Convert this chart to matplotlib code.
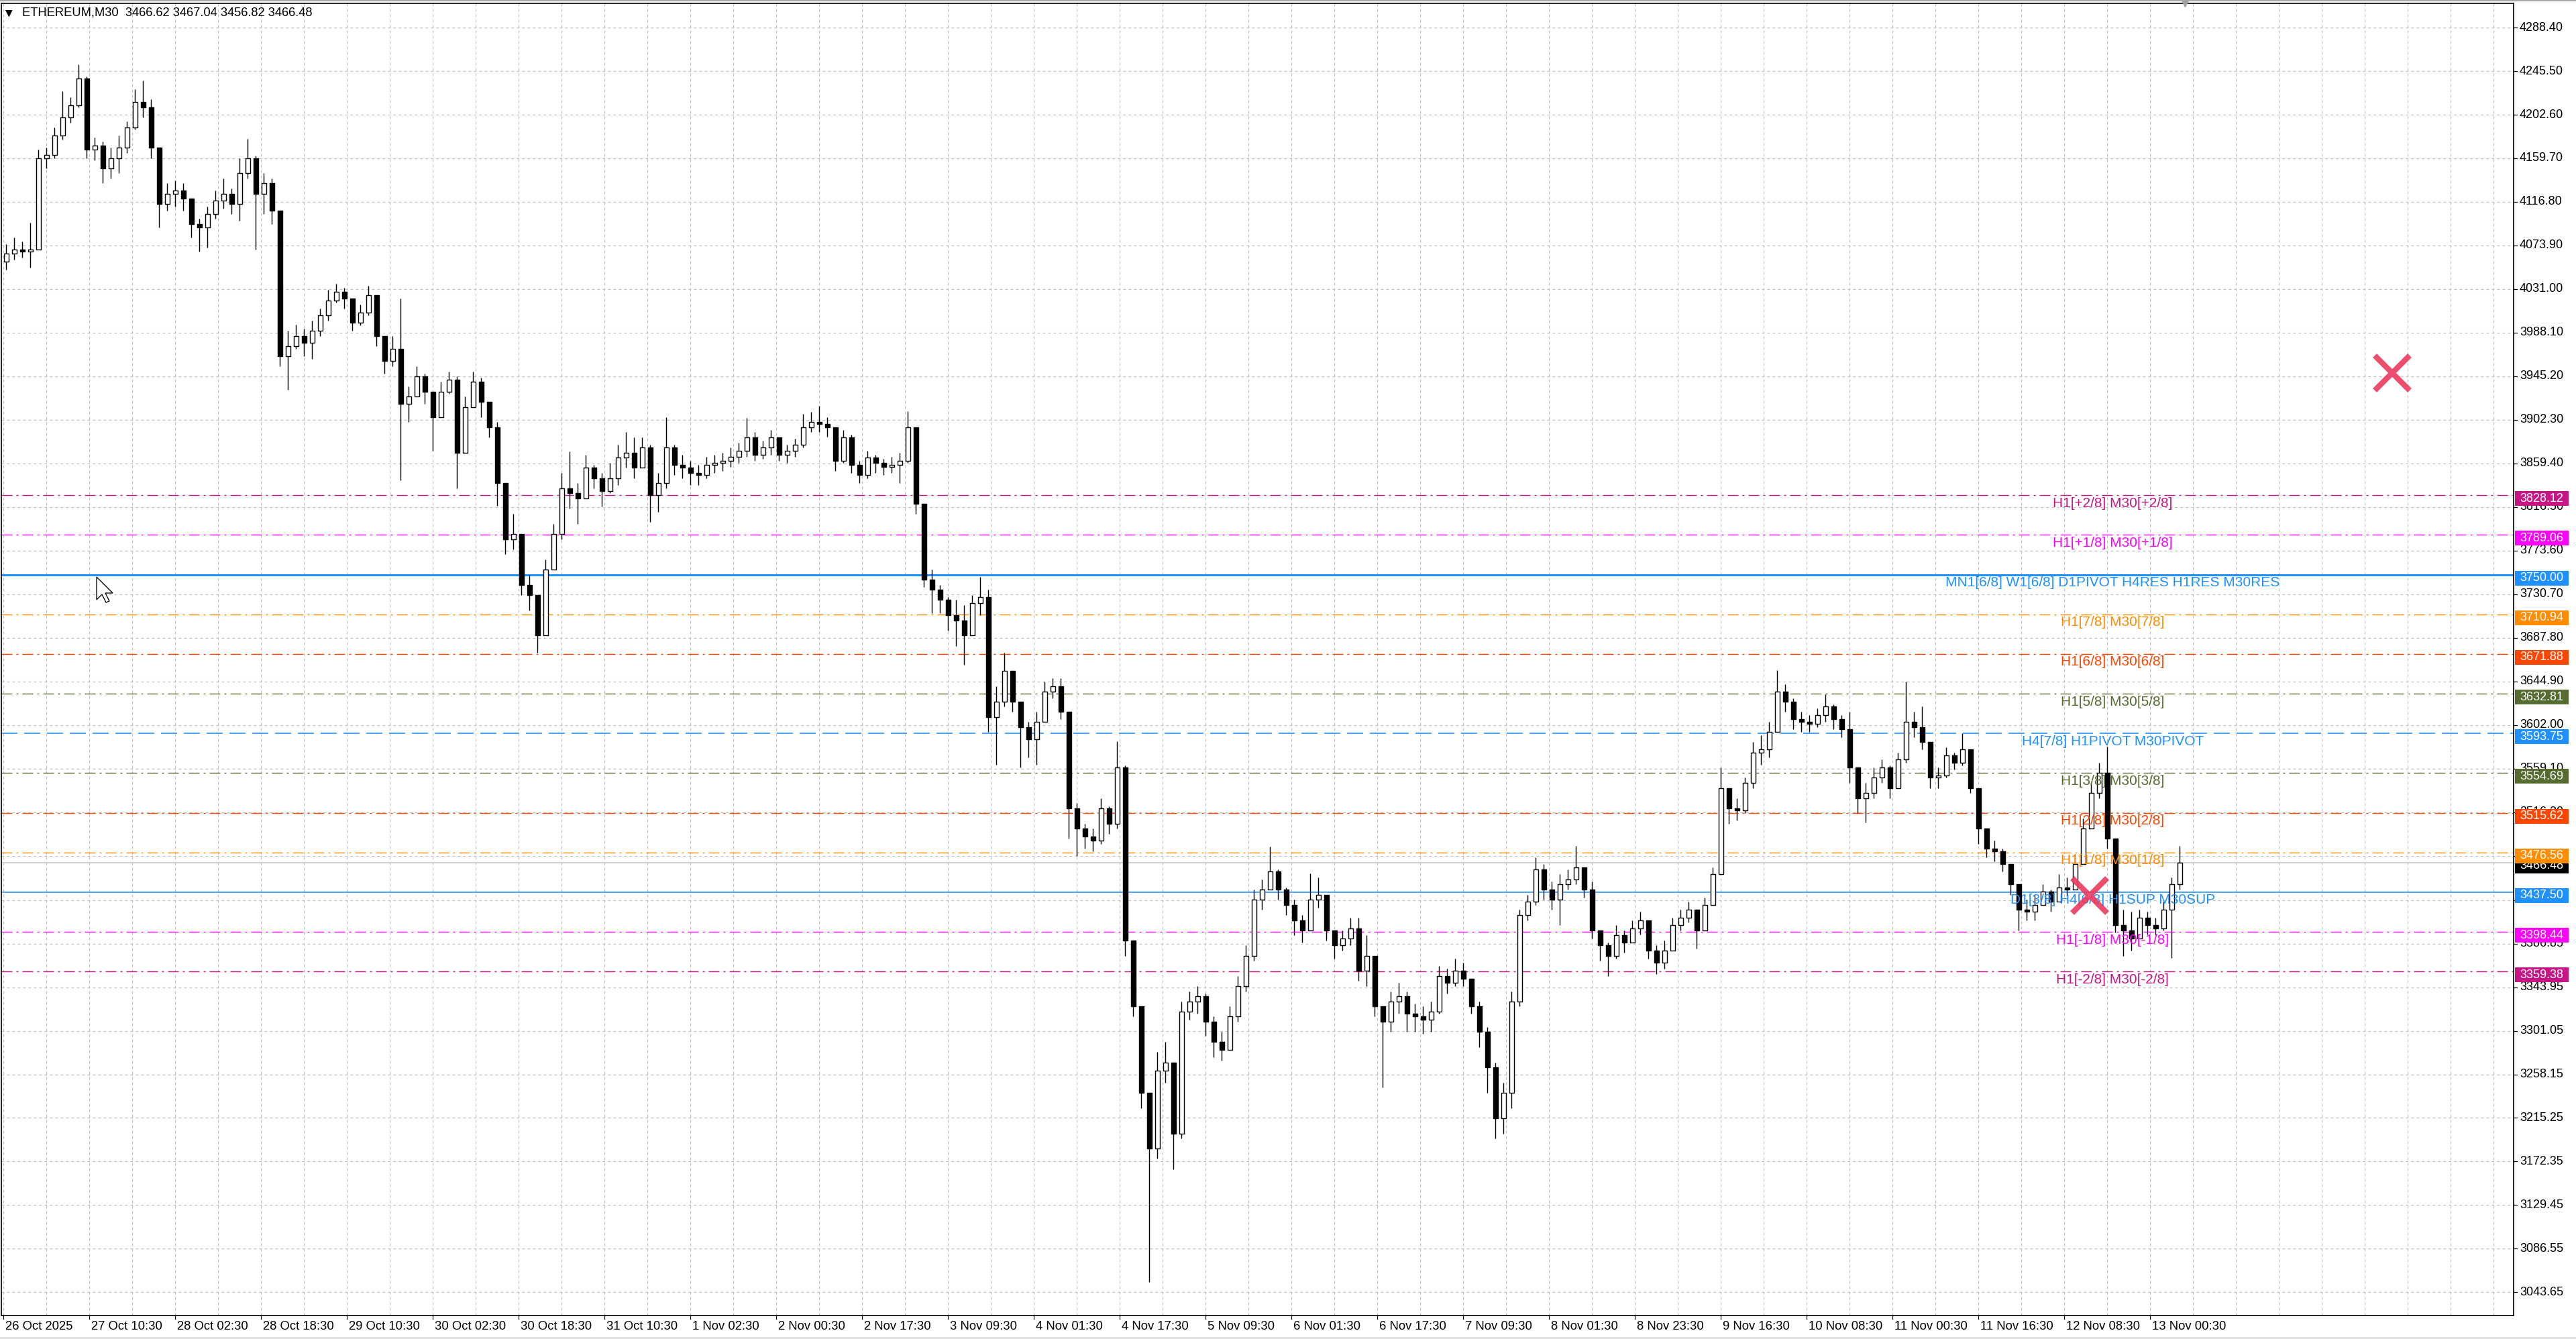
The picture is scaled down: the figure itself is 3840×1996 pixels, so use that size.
import matplotlib
matplotlib.use("Agg")
import matplotlib.pyplot as plt
from matplotlib.patches import Rectangle, Polygon
from matplotlib.collections import LineCollection, PatchCollection
import matplotlib.transforms as mtransforms

plt.rcParams['lines.scale_dashes'] = False

# ---------------- data ----------------
header_text = "ETHEREUM,M30  3466.62 3467.04 3456.82 3466.48"
bars_per_candle = 3          # each drawn candle spans three M30 bars
first_open = 4058.0

close = [
    4066, 4070, 4068, 4070, 4160, 4163, 4182, 4200, 4212, 4238,
    4168, 4172, 4150, 4160, 4170, 4190, 4215, 4210, 4170, 4115,
    4125, 4128, 4120, 4095, 4092, 4105, 4118, 4125, 4115, 4145,
    4160, 4125, 4135, 4108, 3965, 3975, 3985, 3978, 3990, 4005,
    4020, 4028, 4022, 3998, 4008, 4025, 3985, 3960, 3972, 3918,
    3925, 3945, 3930, 3905, 3930, 3942, 3870, 3915, 3940, 3920,
    3895, 3840, 3785, 3790, 3740, 3730, 3690, 3755, 3790, 3835,
    3830, 3825, 3855, 3845, 3832, 3845, 3865, 3870, 3855, 3875,
    3828, 3840, 3875, 3858, 3855, 3850, 3848, 3858, 3860, 3862,
    3866, 3872, 3885, 3868, 3875, 3885, 3868, 3872, 3878, 3895,
    3900, 3898, 3895, 3862, 3885, 3858, 3848, 3865, 3860, 3856,
    3858, 3862, 3895, 3820, 3745, 3735, 3725, 3710, 3705, 3690,
    3722, 3728, 3610, 3625, 3655, 3625, 3600, 3588, 3605, 3635,
    3640, 3615, 3520, 3500, 3492, 3488, 3520, 3505, 3560, 3390,
    3325, 3240, 3185, 3262, 3270, 3200, 3320, 3330, 3335, 3310,
    3290, 3282, 3315, 3345, 3375, 3430, 3440, 3458, 3440, 3425,
    3410, 3400, 3430, 3435, 3400, 3385, 3392, 3402, 3360, 3375,
    3325, 3310, 3330, 3335, 3318, 3315, 3312, 3320, 3355, 3348,
    3360, 3352, 3325, 3300, 3265, 3215, 3240, 3330, 3415, 3428,
    3460, 3440, 3430, 3445, 3450, 3462, 3440, 3400, 3385, 3375,
    3395, 3388, 3402, 3410, 3380, 3368, 3380, 3405, 3412, 3420,
    3400, 3425, 3455, 3540, 3520, 3518, 3545, 3575, 3578, 3595,
    3635, 3625, 3608, 3605, 3603, 3612, 3620, 3608, 3598, 3560,
    3530, 3535, 3550, 3560, 3540, 3568, 3605, 3600, 3585, 3550,
    3552, 3572, 3565, 3578, 3540, 3500, 3480, 3478, 3465, 3445,
    3420, 3418, 3425, 3438, 3428, 3442, 3440, 3465, 3500, 3535,
    3555, 3490, 3405, 3400, 3392, 3412, 3405, 3402, 3420, 3445,
    3466.48,
]

high = [
    4075, 4082, 4078, 4096, 4168, 4170, 4190, 4226, 4220, 4252,
    4240, 4180, 4176, 4170, 4182, 4196, 4228, 4236, 4218, 4165,
    4135, 4138, 4135, 4120, 4100, 4112, 4128, 4140, 4130, 4160,
    4179, 4162, 4145, 4140, 4108, 3990, 3996, 3992, 4000, 4012,
    4030, 4036, 4032, 4020, 4016, 4034, 4025, 3985, 3985, 4022,
    3935, 3955, 3948, 3925, 3940, 3950, 3945, 3925, 3950, 3944,
    3915, 3900, 3840, 3810, 3785, 3750, 3730, 3765, 3800, 3850,
    3871, 3840, 3868, 3858, 3850, 3860, 3878, 3890, 3885, 3885,
    3878, 3850, 3905, 3878, 3868, 3862, 3858, 3866, 3868, 3870,
    3875, 3880, 3904, 3890, 3882, 3892, 3885, 3878, 3884, 3908,
    3910, 3916, 3905, 3895, 3892, 3888, 3862, 3872, 3868, 3864,
    3866, 3870, 3911, 3890, 3815, 3755, 3740, 3728, 3725, 3720,
    3730, 3748, 3735, 3640, 3673, 3650, 3625, 3605, 3615, 3645,
    3648, 3648, 3600, 3525, 3505, 3500, 3530, 3522, 3586, 3562,
    3390, 3325, 3240, 3280, 3290, 3270, 3330, 3340, 3345, 3338,
    3315, 3300, 3325, 3355, 3385, 3440, 3450, 3482, 3460, 3442,
    3430, 3415, 3456, 3452, 3435, 3400, 3400, 3412, 3412, 3395,
    3370, 3325, 3340, 3348, 3340, 3328, 3325, 3330, 3365, 3362,
    3372, 3368, 3352, 3330, 3305, 3270, 3250, 3340, 3420, 3435,
    3472, 3465, 3448, 3455, 3460, 3483, 3462, 3448, 3400, 3388,
    3405, 3400, 3410, 3418, 3408, 3385, 3390, 3412, 3420, 3428,
    3420, 3432, 3462, 3560, 3540, 3530, 3550, 3585, 3592, 3605,
    3656, 3642, 3628, 3615, 3612, 3618, 3632, 3622, 3612, 3615,
    3560, 3545, 3560, 3568, 3562, 3575, 3645, 3615, 3620, 3585,
    3560, 3580, 3575, 3594, 3578, 3540, 3500, 3488, 3480, 3465,
    3445, 3430, 3435, 3445, 3440, 3455, 3452, 3475, 3510, 3545,
    3565, 3581, 3490, 3420, 3418, 3420, 3418, 3412, 3428, 3452,
    3483,
]

low = [
    4050, 4060, 4062, 4052, 4070, 4150, 4160, 4178, 4195, 4210,
    4160, 4158, 4135, 4140, 4145, 4165, 4188, 4200, 4160, 4092,
    4108, 4112, 4108, 4082, 4068, 4072, 4100, 4110, 4105, 4098,
    4140, 4070, 4105, 4095, 3955, 3932, 3972, 3965, 3962, 3985,
    4000, 4018, 4012, 3990, 3995, 4005, 3975, 3948, 3955, 3843,
    3900, 3925, 3918, 3872, 3905, 3928, 3835, 3870, 3915, 3905,
    3885, 3818, 3770, 3775, 3730, 3715, 3673, 3690, 3760, 3785,
    3815, 3800, 3825, 3835, 3817, 3830, 3838, 3855, 3845, 3855,
    3802, 3812, 3835, 3848, 3845, 3838, 3838, 3845, 3850, 3852,
    3856, 3860, 3866, 3862, 3864, 3868, 3862, 3860, 3866, 3875,
    3890, 3890, 3886, 3852, 3860, 3850, 3840, 3845, 3850, 3848,
    3850, 3840, 3860, 3810, 3738, 3712, 3712, 3695, 3680, 3661,
    3700, 3710, 3595, 3563, 3620, 3615, 3560, 3570, 3563, 3605,
    3628, 3608, 3490, 3473, 3480, 3478, 3485, 3495, 3500, 3375,
    3315, 3225, 3054, 3175, 3250, 3165, 3195, 3312, 3318, 3296,
    3275, 3272, 3285, 3310, 3340, 3370, 3420, 3440, 3430, 3415,
    3395, 3388, 3400, 3422, 3390, 3372, 3380, 3385, 3350, 3345,
    3315, 3245, 3300, 3318, 3300, 3300, 3298, 3300, 3318, 3338,
    3345, 3345, 3318, 3285, 3240, 3195, 3200, 3225, 3325, 3410,
    3425, 3430, 3420, 3405, 3440, 3445, 3432, 3392, 3370, 3355,
    3372, 3378, 3390, 3396, 3372, 3357, 3362, 3380, 3400, 3408,
    3382, 3405, 3428, 3455, 3505, 3508, 3515, 3540, 3563, 3570,
    3595, 3615, 3598, 3595, 3595, 3600, 3605, 3598, 3590, 3545,
    3515, 3506, 3530, 3545, 3530, 3540, 3565, 3590, 3578, 3540,
    3540, 3550, 3558, 3562, 3535, 3485, 3472, 3468, 3458, 3435,
    3400, 3410, 3410, 3425, 3418, 3430, 3434, 3440, 3465, 3500,
    3530, 3480, 3398, 3375, 3380, 3395, 3396, 3395, 3400, 3373,
    3440,
]

level_prices = [3828.12, 3789.06, 3750.00, 3710.94, 3671.88, 3632.81, 3593.75,
                3554.69, 3515.62, 3476.56, 3437.50, 3398.44, 3359.38]
level_labels = ["H1[+2/8] M30[+2/8]", "H1[+1/8] M30[+1/8]",
                "MN1[6/8] W1[6/8] D1PIVOT H4RES H1RES M30RES",
                "H1[7/8] M30[7/8]", "H1[6/8] M30[6/8]", "H1[5/8] M30[5/8]",
                "H4[7/8] H1PIVOT M30PIVOT", "H1[3/8] M30[3/8]", "H1[2/8] M30[2/8]",
                "H1[1/8] M30[1/8]", "D1[3/8] H4[6/8] H1SUP M30SUP",
                "H1[-1/8] M30[-1/8]", "H1[-2/8] M30[-2/8]"]
level_colors = ["#C71585", "#FF00FF", "#1E90FF", "#FF8C00", "#FF4500", "#556B2F",
                "#1E90FF", "#556B2F", "#FF4500", "#FF8C00", "#1E90FF", "#FF00FF", "#C71585"]
level_kinds = ["dashdot", "dashdot", "solid_thick", "dashdot", "dashdot", "dashdot",
               "dashed", "dashdot", "dashdot", "dashdot", "solid", "dashdot", "dashdot"]

price_ticks = [4288.40, 4245.50, 4202.60, 4159.70, 4116.80, 4073.90, 4031.00, 3988.10,
               3945.20, 3902.30, 3859.40, 3816.50, 3773.60, 3730.70, 3687.80, 3644.90,
               3602.00, 3559.10, 3516.20, 3473.30, 3429.75, 3386.85, 3343.95, 3301.05,
               3258.15, 3215.25, 3172.35, 3129.45, 3086.55, 3043.65]

time_labels = ["26 Oct 2025", "27 Oct 10:30", "28 Oct 02:30", "28 Oct 18:30", "29 Oct 10:30",
               "30 Oct 02:30", "30 Oct 18:30", "31 Oct 10:30", "1 Nov 02:30", "2 Nov 00:30",
               "2 Nov 17:30", "3 Nov 09:30", "4 Nov 01:30", "4 Nov 17:30", "5 Nov 09:30",
               "6 Nov 01:30", "6 Nov 17:30", "7 Nov 09:30", "8 Nov 01:30", "8 Nov 23:30",
               "9 Nov 16:30", "10 Nov 08:30", "11 Nov 00:30", "11 Nov 16:30", "12 Nov 08:30",
               "13 Nov 00:30"]
bars_per_time_label = 32

current_price = 3466.48
cross_bars = [890.2, 777.4]
cross_prices = [3948.7, 3434.4]

# ---------------- layout ----------------
W, H, DPI = 3840, 1996, 100
L_PX, R_PX, T_PX, B_PX = 2, 3747, 5, 1961
PX_PER_BAR = 4.0
X0 = -0.85
Y_TOP, Y_BOT = 4312.2, 3020.8
px_per_price = (B_PX - T_PX) / (Y_TOP - Y_BOT)

fig = plt.figure(figsize=(W / DPI, H / DPI), dpi=DPI)
fig.patch.set_facecolor("white")
ax = fig.add_axes([L_PX / W, (H - B_PX) / H, (R_PX - L_PX) / W, (B_PX - T_PX) / H])
ax.set_xlim(X0, X0 + (R_PX - L_PX) / PX_PER_BAR)
ax.set_ylim(Y_BOT, Y_TOP)
ax.set_xticks([])
ax.set_yticks([])
for s in ax.spines.values():
    s.set_color("black")
    s.set_linewidth(1.2)

def pt(px):
    return px * 72.0 / DPI

# window frame strips (top / bottom)
fig.add_artist(Rectangle((0, 1 - 2 / H), 1, 2 / H, transform=fig.transFigure,
                         facecolor="#A8A8A8", edgecolor="none"))
fig.add_artist(Rectangle((0, 0), 1, 3 / H, transform=fig.transFigure,
                         facecolor="#E0E0E0", edgecolor="none"))

# grid
xmax = X0 + (R_PX - L_PX) / PX_PER_BAR
g = 0
while g <= xmax:
    ax.axvline(g, color="#C0C0C0", lw=pt(1.2), linestyle=(0, (pt(4), pt(4))), zorder=0.5)
    g += bars_per_time_label / 2
for p in price_ticks:
    ax.axhline(p, color="#C0C0C0", lw=pt(1.2), linestyle=(0, (pt(4), pt(4))), zorder=0.5)

# level lines
dashdot = (0, (pt(16), pt(6), pt(3), pt(6)))
dashed = (0, (pt(24), pt(10)))
for p, c, kind in zip(level_prices, level_colors, level_kinds):
    if kind == "solid_thick":
        ax.axhline(p, color=c, lw=pt(3.0), zorder=1)
    elif kind == "solid":
        ax.axhline(p, color=c, lw=pt(1.6), zorder=1)
    elif kind == "dashed":
        ax.axhline(p, color=c, lw=pt(1.6), linestyle=dashed, zorder=1)
    else:
        ax.axhline(p, color=c, lw=pt(1.4), linestyle=dashdot, zorder=1)

# current price line
ax.axhline(current_price, color="#BEBEBE", lw=pt(1.5), zorder=1)

# candles
opens = [first_open] + close[:-1]
wick_segs = []
bull_rects, bear_rects = [], []
body_w = 1.7
for k, (o, h, l, c) in enumerate(zip(opens, high, low, close)):
    xc = bars_per_candle * k + 1
    top, bot = max(o, c), min(o, c)
    wick_segs.append([(xc, min(l, bot)), (xc, max(h, top))])
    r = Rectangle((xc - body_w / 2, bot), body_w, max(top - bot, 0.8))
    (bull_rects if c >= o else bear_rects).append(r)
ax.add_collection(LineCollection(wick_segs, colors="black", linewidths=pt(1.4), zorder=2))
ax.add_collection(PatchCollection(bull_rects, facecolor="white", edgecolor="black",
                                  linewidth=pt(1.4), zorder=3))
ax.add_collection(PatchCollection(bear_rects, facecolor="black", edgecolor="black",
                                  linewidth=pt(1.4), zorder=3))

# level labels
lab_tr = mtransforms.offset_copy(ax.transData, fig=fig, x=0, y=-12, units="dots")
for p, c, t in zip(level_prices, level_colors, level_labels):
    ax.text(786, p, t, color=c, fontsize=15, family="Liberation Sans",
            ha="center", va="center", transform=lab_tr, zorder=6)

# crosses
ax.plot(cross_bars, cross_prices, linestyle="none", marker="x", markersize=38,
        markeredgewidth=6, color="#EC3A5E", alpha=0.9, zorder=7)

# right price axis
btr = mtransforms.blended_transform_factory(fig.transFigure, ax.transData)
for p in price_ticks:
    ax.plot([R_PX / W, (R_PX + 5) / W], [p, p], color="black", lw=pt(1.2),
            transform=btr, clip_on=False, zorder=3)
    ax.text((R_PX + 9) / W, p, f"{p:.2f}", transform=btr, fontsize=13,
            family="Liberation Sans", ha="left", va="center", color="black",
            clip_on=False, zorder=3)

box_h = 22 / px_per_price
box_shift = 5 / px_per_price
def price_box(p, c, z):
    yc = p - box_shift
    ax.add_patch(Rectangle((3749 / W, yc - box_h / 2), 80 / W, box_h, transform=btr,
                           facecolor=c, edgecolor="none", clip_on=False, zorder=z))
    ax.text(3789 / W, yc, f"{p:.2f}", transform=btr, fontsize=13, family="Liberation Sans",
            ha="center", va="center", color="white", clip_on=False, zorder=z + 0.1)

price_box(current_price, "black", 8)
for i, (p, c) in enumerate(zip(level_prices, level_colors)):
    price_box(p, c, 9 + i * 0.2)

# bottom time axis
ttr = mtransforms.blended_transform_factory(ax.transData, fig.transFigure)
for i, lab in enumerate(time_labels):
    b = i * bars_per_time_label
    ax.plot([b, b], [1 - B_PX / H, 1 - (B_PX + 5) / H], color="black", lw=pt(1.2),
            transform=ttr, clip_on=False)
    ax.text(b + 0.6, 1 - 1977 / H, lab, transform=ttr, fontsize=13.3,
            family="Liberation Sans", ha="left", va="center", color="black", clip_on=False)

# header
fig.text(8 / W, 1 - 19 / H, "\u25BC", fontsize=10, family="DejaVu Sans", va="center",
         ha="left", color="black")
fig.text(33 / W, 1 - 19 / H, header_text, fontsize=13.2, family="Liberation Sans",
         va="center", ha="left", color="black")

# chart shift marker
ax.plot([813], [Y_TOP], marker="v", markersize=7, color="#A0A0A0", clip_on=False, zorder=10)

# mouse cursor
tip_x, tip_y = 144, 860
cur = [(0, 0), (0, 34), (8, 26), (14, 38), (19, 36), (13, 24), (24, 24)]
poly = Polygon([((tip_x + dx) / W, 1 - (tip_y + dy) / H) for dx, dy in cur], closed=True,
               facecolor="white", edgecolor="black", linewidth=pt(1.3),
               transform=fig.transFigure, zorder=20)
fig.add_artist(poly)

fig.savefig("out.png", dpi=DPI, facecolor="white")
